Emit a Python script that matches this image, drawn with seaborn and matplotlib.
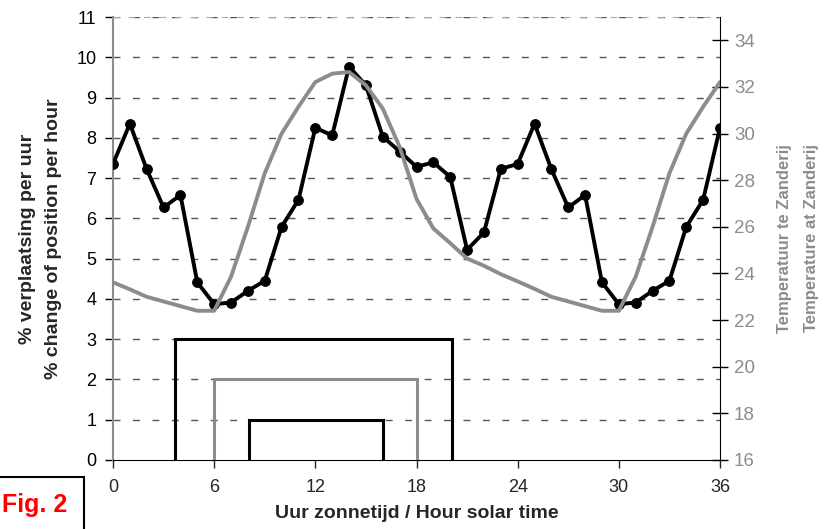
import numpy as np
import pandas as pd
import matplotlib.pyplot as plt
from matplotlib.patches import Rectangle
import seaborn as sns

# hourly values, two days (0..36 h solar time)
hours = list(range(37))
movement = [7.35, 8.35, 7.22, 6.27, 6.58, 4.41, 3.87, 3.91, 4.20, 4.45,
            5.79, 6.46, 8.25, 8.06, 9.77, 9.30, 8.03, 7.66, 7.28, 7.39,
            7.03, 5.22, 5.65, 7.23, 7.35, 8.35, 7.22, 6.27, 6.58, 4.41,
            3.87, 3.91, 4.20, 4.45, 5.79, 6.46, 8.25]
temperature = [23.62, 23.32, 23.00, 22.80, 22.60, 22.40, 22.40, 23.86, 26.00, 28.30,
               30.00, 31.15, 32.21, 32.57, 32.64, 32.07, 31.07, 29.43, 27.20, 25.93,
               25.30, 24.64, 24.33, 23.97, 23.66, 23.34, 23.00, 22.80, 22.60, 22.40,
               22.40, 23.86, 26.00, 28.30, 30.00, 31.15, 32.21]

# activity period brackets: start hour, end hour, level
bracket_start = [3.67, 6.0, 8.05]
bracket_end = [20.12, 18.0, 16.03]
bracket_level = [3, 2, 1]
bracket_colors = ["black", "#8c8c8c", "black"]

xticks = [0, 6, 12, 18, 24, 30, 36]
left_ticks = list(range(0, 12))
right_ticks = list(range(16, 35, 2))

df = pd.DataFrame({"hour": hours, "movement": movement, "temperature": temperature})

sns.set_style("white")
plt.rcParams["font.family"] = ["Liberation Sans", "DejaVu Sans"]

GRAY = "#8c8c8c"
fig = plt.figure(figsize=(8.24, 5.29), dpi=100)
ax = fig.add_axes([113 / 824, 69 / 529, 607 / 824, 443 / 529])

# dashed horizontal grid
for v in left_ticks[1:]:
    ax.axhline(v, color="#555555", lw=1.0, ls=(0, (5, 9)), zorder=0)

sns.lineplot(data=df, x="hour", y="movement", ax=ax, color="black", lw=2.8,
             marker="o", markersize=7, markeredgecolor="black", zorder=4)

for s, e, lv, c in zip(bracket_start, bracket_end, bracket_level, bracket_colors):
    ax.plot([s, s, e, e], [0, lv, lv, 0], color=c, lw=2.2, solid_joinstyle="miter", zorder=3)

ax.set_xlim(0, 36)
ax.set_ylim(0, 11)
ax.set_xticks(xticks)
ax.set_yticks(left_ticks)
ax.tick_params(axis="y", direction="out", length=6, width=1, colors="black",
               labelsize=13, pad=6, left=True)
ax.tick_params(axis="x", direction="out", length=6, width=1, labelsize=13, pad=8, bottom=True)
ax.spines["left"].set_color(GRAY)
ax.spines["left"].set_linewidth(1.5)
ax.spines["bottom"].set_color("black")
ax.spines["top"].set_color("#aaaaaa")
ax.spines["top"].set_linestyle((0, (5, 9)))
ax.spines["right"].set_visible(False)

ax.set_xlabel("Uur zonnetijd / Hour solar time", fontsize=14, fontweight="bold",
              labelpad=6)
ax.set_ylabel("% verplaatsing per uur\n% change of position per hour", fontsize=14,
              fontweight="bold", linespacing=1.75, labelpad=10)

ax2 = ax.twinx()
sns.lineplot(data=df, x="hour", y="temperature", ax=ax2, color=GRAY, lw=2.8, zorder=5)
ax2.set_ylim(16, 35)
ax2.set_yticks(right_ticks)
ax2.tick_params(axis="y", direction="inout", length=12, width=1, colors="black",
                labelcolor=GRAY, labelsize=13.5, pad=4, right=True)
ax2.spines["right"].set_color("black")
for sp in ["left", "top", "bottom"]:
    ax2.spines[sp].set_visible(False)
ax2.set_ylabel("Temperatuur te Zanderij\nTemperature at Zanderij", color=GRAY,
               fontsize=12, fontweight="bold", linespacing=2.0, labelpad=16)

# figure tag
fig.patches.append(Rectangle((-20 / 824, -0.05), 104 / 824, 52 / 529 + 0.05,
                             transform=fig.transFigure, fill=False,
                             edgecolor="black", lw=1.5))
fig.text(2 / 824, 1 - 512 / 529, "Fig. 2", color="red", fontsize=18, fontweight="bold",
         ha="left", va="baseline")

fig.savefig("out.png", dpi=100)
